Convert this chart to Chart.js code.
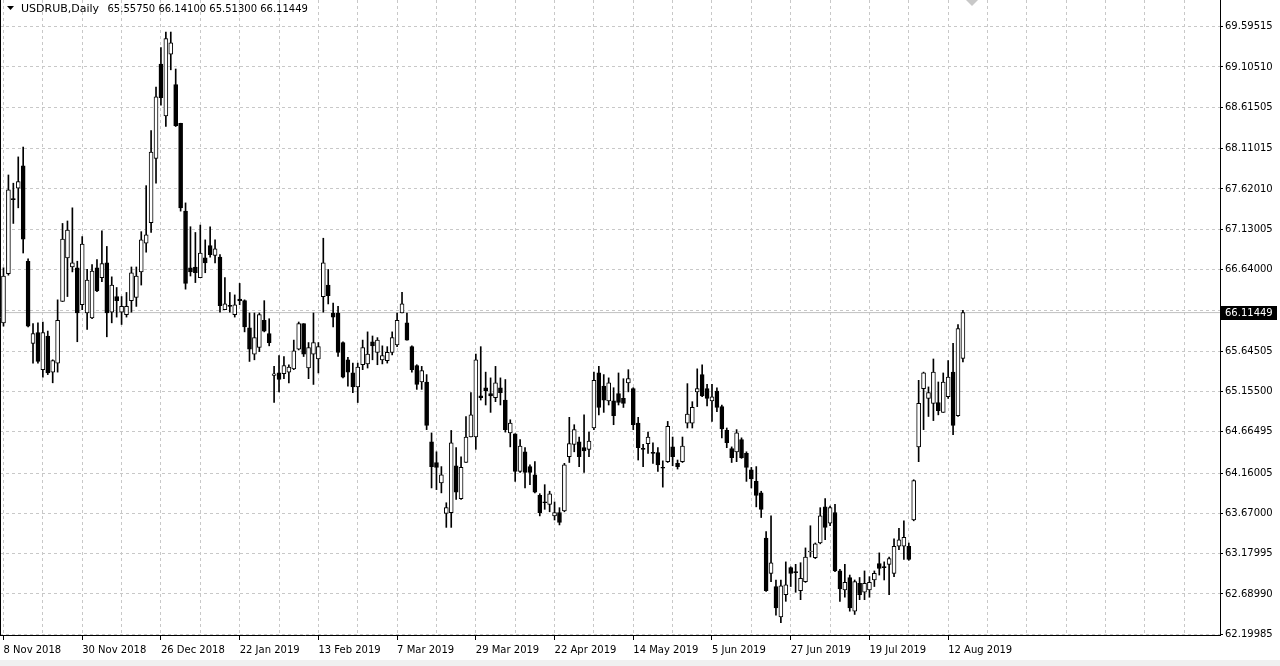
<!DOCTYPE html>
<html><head><meta charset="utf-8">
<script src="https://cdn.jsdelivr.net/npm/chart.js@4.4.0/dist/chart.umd.min.js"></script>
<style>
html,body{margin:0;padding:0;background:#f0f0f0;width:1280px;height:666px;overflow:hidden}
#wrap{width:1280px;height:660px;background:#fff}
canvas{display:block}
</style></head><body>
<div id="wrap"><canvas id="c" width="1280" height="660"></canvas></div>
<script>
const symbol = 'USDRUB,Daily';
const dateLabels = ['8 Nov 2018','30 Nov 2018','26 Dec 2018','22 Jan 2019','13 Feb 2019','7 Mar 2019','29 Mar 2019','22 Apr 2019','14 May 2019','5 Jun 2019','27 Jun 2019','19 Jul 2019','12 Aug 2019'];
const labelStep = 16;
const gridStep = 8;
const priceTickValues = [69.59515,69.10510,68.61505,68.11015,67.62010,67.13005,66.64000,66.14250,65.64505,65.15500,64.66495,64.16005,63.67000,63.17995,62.68990,62.19985];
const priceTickLabels = ['69.59515','69.10510','68.61505','68.11015','67.62010','67.13005','66.64000','','65.64505','65.15500','64.66495','64.16005','63.67000','63.17995','62.68990','62.19985'];

const open = [
65.99,66.59,67.50,67.63,67.90,66.74,65.74,65.87,65.42,65.83,
65.39,65.50,66.25,66.78,66.67,66.66,66.21,66.11,66.05,66.66,
66.54,66.72,66.12,66.31,66.12,66.09,66.26,66.30,66.61,66.96,
67.21,67.99,69.14,68.51,69.26,68.89,68.42,67.35,66.66,66.67,
66.54,66.78,66.93,66.81,66.79,66.15,66.20,66.09,66.28,66.26,
65.93,65.61,65.69,66.02,65.86,65.35,65.38,65.37,65.39,65.43,
65.67,65.98,65.44,65.61,65.55,66.31,66.45,66.11,66.11,65.75,
65.54,65.38,65.21,65.48,65.49,65.76,65.63,65.54,65.53,65.63,
65.72,66.11,65.99,65.70,65.47,65.27,65.27,64.54,64.29,64.04,
63.67,63.68,64.25,63.85,64.29,64.60,64.60,65.10,65.20,65.13,
65.08,65.20,65.05,64.65,64.64,64.18,64.42,64.24,64.14,63.89,
63.81,63.78,63.64,63.68,63.70,64.36,64.51,64.54,64.47,64.45,
64.71,65.38,65.22,65.04,65.04,65.13,65.07,65.26,65.19,64.77,
64.46,64.52,64.41,64.41,64.23,64.30,64.48,64.28,64.30,64.77,
64.77,65.15,65.36,65.19,65.04,65.16,64.97,64.68,64.46,64.42,
64.57,64.40,64.20,64.06,63.92,63.37,62.94,62.78,62.41,62.68,
63.01,62.96,62.73,62.84,63.20,63.13,63.31,63.75,63.55,63.68,
62.97,62.74,62.89,62.48,62.82,62.71,62.74,62.86,63.06,63.02,
63.05,62.94,63.27,63.27,63.27,63.59,64.48,65.19,65.07,65.01,
65.02,64.90,65.09,65.39,64.86,65.5575];
const high = [
66.66,67.79,67.69,68.01,68.13,66.77,65.98,65.99,66.00,65.89,
65.54,66.27,67.20,67.23,67.39,66.74,67.04,66.64,66.70,66.76,
67.11,66.92,66.55,66.42,66.31,66.36,66.67,66.67,67.10,67.66,
68.33,68.86,69.34,69.53,69.53,69.08,68.42,67.45,67.16,67.09,
67.18,67.00,67.16,67.00,66.82,66.54,66.36,66.33,66.47,66.27,
66.11,66.11,66.11,66.26,66.04,65.46,65.59,65.58,65.48,65.78,
66.00,65.98,65.75,66.11,65.75,67.02,66.64,66.23,66.19,65.76,
65.57,65.50,65.50,65.78,65.88,65.83,65.81,65.71,65.70,65.88,
66.11,66.36,66.11,65.71,65.48,65.46,65.36,64.65,64.42,64.24,
63.80,64.68,64.47,64.36,64.85,65.14,65.61,65.70,65.39,65.32,
65.46,65.32,65.30,64.81,64.64,64.57,64.47,64.26,64.30,63.91,
64.02,63.94,63.81,63.74,64.28,64.84,64.75,64.60,64.87,64.66,
65.39,65.46,65.36,65.32,65.20,65.38,65.31,65.42,65.20,64.84,
64.51,64.66,64.53,64.47,64.31,64.79,64.60,64.32,64.60,65.25,
65.03,65.43,65.48,65.24,65.24,65.20,64.99,64.71,64.48,64.69,
64.59,64.42,64.23,64.24,63.94,63.45,63.64,62.86,62.86,63.08,
63.02,63.05,63.07,63.25,63.52,63.31,63.74,63.85,63.76,63.78,
62.99,63.05,62.92,62.86,62.89,62.97,62.90,62.97,63.19,63.08,
63.14,63.36,63.49,63.58,63.31,64.08,65.29,65.39,65.21,65.55,
65.27,65.38,65.53,65.74,65.97,66.141];
const low = [
65.95,66.57,67.20,67.39,66.84,65.94,65.50,65.50,65.33,65.36,
65.26,65.39,66.25,66.31,66.61,65.76,66.15,65.91,66.04,66.37,
66.49,65.82,65.99,66.06,65.97,66.06,66.12,66.19,66.45,66.85,
67.09,67.69,68.64,68.38,69.07,68.38,67.35,66.40,66.56,66.48,
66.54,66.60,66.79,66.72,66.12,66.15,66.12,66.06,66.21,65.88,
65.52,65.54,65.64,65.88,65.71,65.02,65.15,65.31,65.26,65.42,
65.66,65.58,65.31,65.24,65.38,66.12,66.22,65.94,65.58,65.32,
65.22,65.14,65.02,65.42,65.44,65.54,65.48,65.49,65.50,65.60,
65.70,66.11,65.78,65.39,65.18,65.18,64.69,63.98,63.96,63.92,
63.50,63.50,63.84,63.84,64.29,64.60,64.45,65.05,64.99,64.90,
65.03,64.99,64.66,64.48,64.06,64.17,63.98,64.02,63.92,63.64,
63.72,63.69,63.59,63.53,63.69,64.29,64.42,64.24,64.17,64.36,
64.69,64.87,64.90,64.99,64.75,64.99,64.96,65.15,64.69,64.32,
64.24,64.40,64.28,64.18,63.99,64.29,64.25,64.21,64.29,64.71,
64.71,64.97,65.09,64.98,64.79,64.91,64.59,64.47,64.29,64.30,
64.34,64.06,63.98,63.75,63.62,62.72,62.84,62.43,62.34,62.60,
62.78,62.71,62.62,62.83,63.14,63.12,63.30,63.35,63.52,62.96,
62.60,62.65,62.48,62.44,62.62,62.62,62.65,62.78,62.92,62.86,
62.68,62.90,63.23,63.11,63.10,63.58,64.30,64.69,64.85,64.80,
64.87,64.90,65.07,64.63,64.85,65.513];
const close = [
66.56,67.61,67.49,67.71,67.01,65.95,65.86,65.52,65.87,65.38,
65.53,66.02,67.01,67.12,66.72,66.11,66.95,66.51,66.62,66.38,
66.71,66.11,66.45,66.26,66.19,66.19,66.60,66.56,67.00,67.06,
68.07,68.74,68.73,69.45,69.40,68.39,67.39,66.47,66.61,66.60,
66.84,66.72,66.82,66.89,66.20,66.22,66.19,66.21,66.26,65.94,
65.67,65.81,66.09,65.89,65.75,65.37,65.30,65.47,65.45,65.65,
65.98,65.61,65.69,65.75,65.70,66.72,66.32,66.06,65.63,65.33,
65.39,65.21,65.45,65.69,65.61,65.71,65.78,65.59,65.63,65.81,
66.02,66.22,65.78,65.42,65.24,65.41,64.74,64.24,64.23,64.14,
63.74,64.53,63.93,64.23,64.60,64.87,65.54,65.08,65.16,65.10,
65.26,65.14,64.69,64.77,64.18,64.49,64.17,64.17,63.93,63.68,
63.80,63.91,63.68,63.56,64.26,64.52,64.69,64.36,64.43,64.55,
65.29,64.96,65.05,65.26,64.86,65.02,65.01,65.31,64.75,64.47,
64.45,64.60,64.40,64.26,64.22,64.73,64.36,64.24,64.49,64.88,
64.96,65.19,65.10,65.07,65.09,64.96,64.70,64.53,64.35,64.65,
64.35,64.23,64.09,63.89,63.72,62.73,63.07,62.52,62.79,62.80,
62.94,62.95,62.88,63.14,63.21,63.30,63.64,63.50,63.74,62.97,
62.75,62.83,62.52,62.84,62.68,62.82,62.83,62.94,63.00,63.01,
63.12,63.27,63.35,63.38,63.11,64.07,65.01,65.38,65.14,65.39,
64.92,65.27,65.33,64.74,65.92,66.11449];

const lastPrice = close[close.length - 1];
const X_MIN = -0.71, X_MAX = 247.25;

const bodies = open.map((o, i) => ({x: i, y: [o, close[i]]}));
const wicks = open.map((o, i) => ({x: i, y: [low[i], high[i]]}));

Chart.defaults.font.family = '"DejaVu Sans", sans-serif';
Chart.defaults.font.size = 10;
Chart.defaults.color = '#000';

const noPad = s => { s.paddingTop = 0; s.paddingBottom = 0; s.paddingLeft = 0; s.paddingRight = 0; };

const decor = {
  id: 'decor',
  afterDraw(chart) {
    const {ctx, chartArea: a, scales: {y}} = chart;
    ctx.save();
    ctx.strokeStyle = '#000'; ctx.lineWidth = 1;
    ctx.beginPath(); ctx.moveTo(a.left + 0.5, a.top); ctx.lineTo(a.left + 0.5, a.bottom); ctx.stroke();
    ctx.fillStyle = '#000';
    ctx.beginPath(); ctx.moveTo(7, 6); ctx.lineTo(14, 6); ctx.lineTo(10.5, 10); ctx.closePath(); ctx.fill();
    ctx.textBaseline = 'middle'; ctx.textAlign = 'left';
    ctx.font = '11px "DejaVu Sans"';
    ctx.fillText(symbol, 21, 9.5);
    ctx.font = '10px "DejaVu Sans"';
    ctx.fillText([open, high, low, close].map(s => s[s.length - 1].toFixed(5)).join(' '), 107.5, 9.5);
    ctx.fillStyle = '#c8c8c8';
    ctx.beginPath(); ctx.moveTo(966, 0); ctx.lineTo(978, 0); ctx.lineTo(972, 6); ctx.closePath(); ctx.fill();
    const py = Math.round(y.getPixelForValue(lastPrice));
    ctx.fillStyle = '#000'; ctx.fillRect(a.right + 1, py - 7, 56, 14);
    ctx.fillStyle = '#fff'; ctx.fillText(lastPrice.toFixed(5), a.right + 5, py + 0.5);
    ctx.restore();
  }
};

new Chart(document.getElementById('c'), {
  type: 'bar',
  data: {
    datasets: [
      {label: 'body', data: bodies, order: 0, grouped: false, barThickness: 4, maxBarThickness: 4,
       borderWidth: 1, borderColor: '#000', borderSkipped: false, minBarLength: 1,
       backgroundColor: c => (close[c.dataIndex] >= open[c.dataIndex] ? '#ffffff' : '#000000')},
      {label: 'wick', data: wicks, order: 1, grouped: false, barThickness: 1, maxBarThickness: 1,
       borderWidth: 0, backgroundColor: '#000'},
      {type: 'line', label: 'last', data: [{x: X_MIN, y: lastPrice}, {x: X_MAX, y: lastPrice}],
       borderColor: '#c0c0c0', borderWidth: 1, pointRadius: 0, order: 2}
    ]
  },
  options: {
    responsive: false, animation: false, events: [],
    layout: {padding: 0},
    plugins: {legend: {display: false}, tooltip: {enabled: false}},
    scales: {
      x: {
        type: 'linear', min: X_MIN, max: X_MAX, offset: false,
        afterBuildTicks: s => { const t = []; for (let v = 0; v <= X_MAX; v += gridStep) t.push({value: v}); s.ticks = t; },
        ticks: {autoSkip: false, maxRotation: 0, minRotation: 0, align: 'start', padding: 4,
          callback: v => (v % labelStep === 0 && dateLabels[v / labelStep]) ? dateLabels[v / labelStep] : ''},
        grid: {offset: false, color: '#c8c8c8', lineWidth: 1, tickLength: 5,
          tickColor: c => (c.tick && c.tick.value % labelStep === 0 && dateLabels[c.tick.value / labelStep]) ? '#000' : 'rgba(0,0,0,0)'},
        border: {display: true, color: '#000', width: 1, dash: [3, 3]},
        afterFit: s => { s.height = 25; noPad(s); }
      },
      y: {
        type: 'linear', position: 'right', min: 62.19, max: 69.92, beginAtZero: false,
        afterBuildTicks: s => { s.ticks = priceTickValues.map(v => ({value: v})); },
        ticks: {autoSkip: false, padding: 2, callback: (v, i) => priceTickLabels[i]},
        grid: {color: '#c8c8c8', lineWidth: 1, tickLength: 3, tickColor: '#000'},
        border: {display: true, color: '#000', width: 1, dash: [3, 3]},
        afterFit: s => { s.width = 60; noPad(s); }
      }
    }
  },
  plugins: [decor]
});
</script>
</body></html>
